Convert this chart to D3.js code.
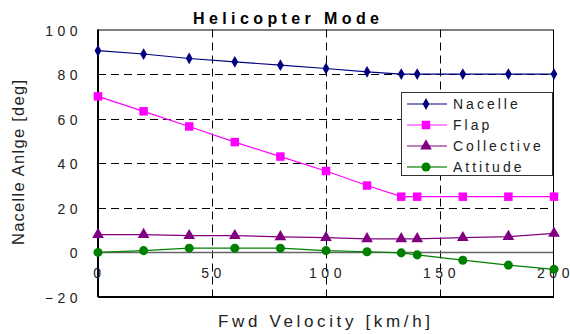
<!DOCTYPE html>
<html>
<head>
<meta charset="utf-8">
<script src="https://cdn.jsdelivr.net/npm/d3@7/dist/d3.min.js"></script>
<style>
  html, body { margin: 0; padding: 0; background: #fff; }
  svg { display: block; font-family: "Liberation Sans", Arial, sans-serif; }
</style>
</head>
<body>
<svg id="chart" width="570" height="334"></svg>
<script>
// Forward velocity samples [km/h]
const velocity = [0, 20, 40, 60, 80, 100, 118, 133, 140, 160, 180, 200];
// Schedules [deg]
const nacelle    = [90.5, 89, 87, 85.5, 84, 82.5, 81, 80, 80, 80, 80, 80];
const flap       = [70, 63.3, 56.5, 49.5, 43, 36.5, 30, 25, 25, 25, 25, 25];
const collective = [8, 8, 7.5, 7.5, 7, 6.6, 6.1, 6.1, 6.1, 6.6, 7.1, 8.5];
const attitude   = [0, 0.8, 1.9, 1.9, 1.9, 0.8, 0.3, -0.2, -1.1, -3.5, -5.7, -7.6];
const seriesNames = ["Nacelle", "Flap", "Collective", "Attitude"];
const xTicks = [0, 50, 100, 150, 200];
const yTicks = [-20, 0, 20, 40, 60, 80, 100];

const svg = d3.select("#chart");
const m = { left: 98, right: 554, top: 29.5, bottom: 297 };

const x = d3.scaleLinear().domain([0, 200]).range([m.left, m.right]);
const y = d3.scaleLinear().domain([-20, 100]).range([m.bottom, m.top]);

const series = [
  { name: seriesNames[0], values: nacelle,    color: "#000080", legendLine: "#5555a8", symbol: d3.symbolDiamond,  size: 40 },
  { name: seriesNames[1], values: flap,       color: "#ff00ff", legendLine: "#ff66ff", symbol: d3.symbolSquare,   size: 72 },
  { name: seriesNames[2], values: collective, color: "#800080", legendLine: "#a455a4", symbol: d3.symbolTriangle, size: 60 },
  { name: seriesNames[3], values: attitude,   color: "#008000", legendLine: "#3a9a3a", symbol: d3.symbolCircle,   size: 64 }
];

// Dashed grid
const grid = svg.append("g");
grid.selectAll("line.h").data([20, 40, 60, 80]).join("line")
  .attr("x1", m.left).attr("x2", m.right)
  .attr("y1", d => Math.round(y(d)) + 0.5).attr("y2", d => Math.round(y(d)) + 0.5)
  .attr("stroke", "#000").attr("stroke-width", 1).attr("stroke-dasharray", "8,5");
grid.selectAll("line.v").data([50, 100, 150]).join("line")
  .attr("y1", m.top).attr("y2", m.bottom)
  .attr("x1", d => Math.round(x(d)) + 0.5).attr("x2", d => Math.round(x(d)) + 0.5)
  .attr("stroke", "#000").attr("stroke-width", 1).attr("stroke-dasharray", "8,5");

// Zero reference line
svg.append("line")
  .attr("x1", m.left).attr("x2", m.right)
  .attr("y1", y(0)).attr("y2", y(0))
  .attr("stroke", "#666").attr("stroke-width", 1.5);

// Frame
svg.append("rect")
  .attr("x", m.left + 0.5).attr("y", m.top + 0.5)
  .attr("width", m.right - m.left - 1).attr("height", m.bottom - m.top - 1)
  .attr("fill", "none").attr("stroke", "#000").attr("stroke-width", 1);
svg.append("line")
  .attr("x1", m.left).attr("x2", m.left).attr("y1", m.top).attr("y2", m.bottom)
  .attr("stroke", "#000").attr("stroke-width", 2);
svg.append("line")
  .attr("x1", m.left).attr("x2", m.right).attr("y1", m.bottom).attr("y2", m.bottom)
  .attr("stroke", "#000").attr("stroke-width", 2);

// Y tick labels
svg.append("g").selectAll("text").data(yTicks).join("text")
  .attr("x", 82).attr("y", d => y(d) + 1)
  .attr("dy", "0.36em")
  .attr("text-anchor", "end")
  .attr("font-size", 14).attr("letter-spacing", 4.5).attr("fill", "#222")
  .text(d => d === -20 ? "\u221220" : d);

// X tick labels (just under the zero line)
svg.append("g").selectAll("text").data(xTicks).join("text")
  .attr("x", d => x(d) + 1.5).attr("y", y(0) + 26)
  .attr("text-anchor", "middle")
  .attr("font-size", 14).attr("letter-spacing", 4.5).attr("fill", "#222")
  .text(d => d);

// Lines and markers
const line = d3.line().x((d, i) => x(velocity[i])).y(d => y(d));
series.forEach(s => {
  svg.append("path").datum(s.values)
    .attr("d", line).attr("fill", "none")
    .attr("stroke", s.color).attr("stroke-width", 1.2);
  svg.append("g").selectAll("path").data(s.values).join("path")
    .attr("d", d3.symbol(s.symbol, s.size))
    .attr("transform", (d, i) => `translate(${x(velocity[i])},${y(d)})`)
    .attr("fill", s.color);
});

// Title
svg.append("text")
  .attr("x", 193).attr("y", 24)
  .attr("font-size", 16).attr("font-weight", "bold")
  .attr("textLength", 186).attr("lengthAdjust", "spacing")
  .attr("fill", "#000")
  .text("Helicopter Mode");

// Axis titles
svg.append("text")
  .attr("x", 218).attr("y", 327)
  .attr("font-size", 17)
  .attr("textLength", 212).attr("lengthAdjust", "spacing")
  .attr("fill", "#222")
  .text("Fwd Velocity [km/h]");
svg.append("text")
  .attr("transform", "translate(23.5,245) rotate(-90)")
  .attr("font-size", 16.5)
  .attr("textLength", 165).attr("lengthAdjust", "spacing")
  .attr("fill", "#222")
  .text("Nacelle Anlge [deg]");

// Legend
const lg = svg.append("g");
lg.append("rect")
  .attr("x", 401.5).attr("y", 92.5).attr("width", 151).attr("height", 83)
  .attr("fill", "#fff").attr("stroke", "#333").attr("stroke-width", 1);
const rows = lg.selectAll("g.row").data(series).join("g")
  .attr("transform", (d, i) => `translate(0,${104 + i * 21})`);
rows.append("line")
  .attr("x1", 407).attr("x2", 447).attr("y1", 0).attr("y2", 0)
  .attr("stroke", d => d.legendLine).attr("stroke-width", 1.3);
rows.append("path")
  .attr("d", d => d3.symbol(d.symbol, d.size)())
  .attr("transform", "translate(426,0)")
  .attr("fill", d => d.color);
rows.append("text")
  .attr("x", 453).attr("y", 0).attr("dy", "0.36em")
  .attr("font-size", 14).attr("letter-spacing", 3).attr("fill", "#222")
  .text(d => d.name);
</script>
</body>
</html>
